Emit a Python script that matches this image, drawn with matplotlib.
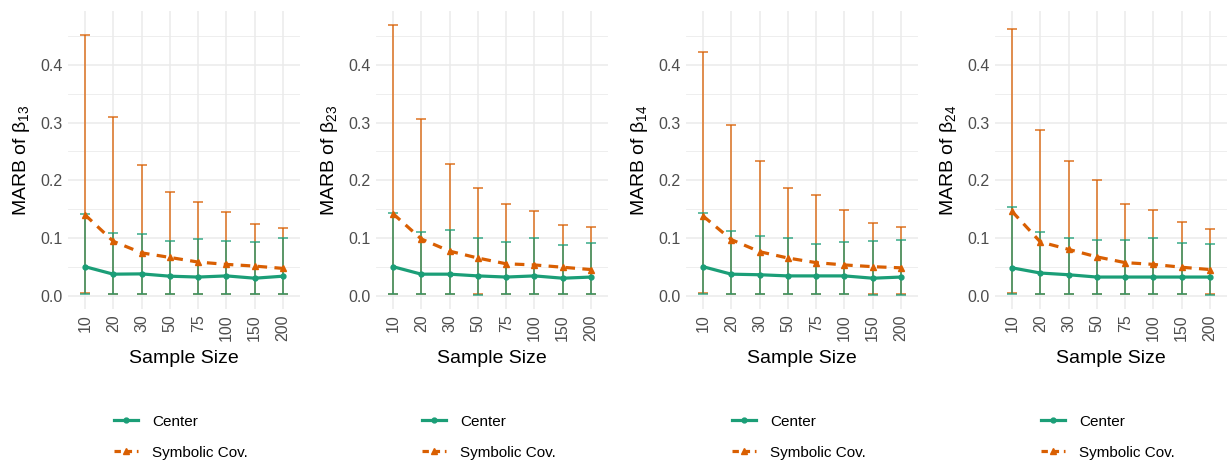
import matplotlib
matplotlib.use("Agg")
import matplotlib.pyplot as plt
from matplotlib.lines import Line2D
import numpy as np

plt.rcParams['font.family'] = ['Liberation Sans', 'DejaVu Sans']
plt.rcParams['mathtext.fontset'] = 'custom'
plt.rcParams['mathtext.rm'] = 'Liberation Sans'
plt.rcParams['mathtext.default'] = 'regular'

sample_sizes = ['10', '20', '30', '50', '75', '100', '150', '200']
panel_subscripts = ['13', '23', '14', '24']

# Center method: mean MARB and error-bar bounds per panel
center_mean = [
    [0.050, 0.037, 0.0375, 0.0335, 0.032, 0.034, 0.030, 0.0335],
    [0.050, 0.037, 0.037, 0.034, 0.032, 0.034, 0.030, 0.032],
    [0.050, 0.037, 0.036, 0.034, 0.034, 0.034, 0.030, 0.032],
    [0.048, 0.039, 0.036, 0.032, 0.032, 0.032, 0.032, 0.032],
]
center_low = [
    [0.002, 0.002, 0.002, 0.002, 0.002, 0.002, 0.002, 0.002],
    [0.002, 0.002, 0.002, 0.001, 0.002, 0.002, 0.002, 0.002],
    [0.002, 0.002, 0.002, 0.002, 0.002, 0.002, 0.001, 0.001],
    [0.002, 0.002, 0.002, 0.002, 0.002, 0.002, 0.002, 0.001],
]
center_high = [
    [0.142, 0.109, 0.107, 0.095, 0.098, 0.095, 0.093, 0.100],
    [0.143, 0.110, 0.114, 0.099, 0.092, 0.099, 0.088, 0.091],
    [0.143, 0.112, 0.103, 0.099, 0.090, 0.092, 0.094, 0.096],
    [0.153, 0.110, 0.099, 0.096, 0.096, 0.099, 0.091, 0.089],
]

# Symbolic covariance method
sym_mean = [
    [0.140, 0.094, 0.074, 0.066, 0.058, 0.054, 0.051, 0.047],
    [0.142, 0.098, 0.077, 0.065, 0.055, 0.053, 0.049, 0.045],
    [0.138, 0.097, 0.076, 0.065, 0.057, 0.053, 0.050, 0.048],
    [0.146, 0.093, 0.080, 0.067, 0.057, 0.054, 0.049, 0.045],
]
sym_low = [
    [0.005, 0.003, 0.003, 0.002, 0.002, 0.002, 0.003, 0.002],
    [0.003, 0.003, 0.002, 0.002, 0.002, 0.002, 0.003, 0.002],
    [0.005, 0.002, 0.003, 0.002, 0.002, 0.002, 0.002, 0.002],
    [0.005, 0.003, 0.003, 0.003, 0.002, 0.002, 0.002, 0.002],
]
sym_high = [
    [0.452, 0.309, 0.227, 0.180, 0.162, 0.145, 0.124, 0.117],
    [0.469, 0.306, 0.228, 0.187, 0.159, 0.146, 0.123, 0.119],
    [0.4225, 0.295, 0.233, 0.187, 0.175, 0.149, 0.126, 0.118],
    [0.462, 0.287, 0.233, 0.201, 0.159, 0.148, 0.128, 0.116],
]

GREEN = '#1B9E77'
ORANGE = '#D95F02'
TICK_GRAY = '#4D4D4D'
GRID = '#EBEBEB'

W, H = 1231, 462
fig = plt.figure(figsize=(W / 100, H / 100), dpi=100)

panel_lefts = [68, 376, 686, 995]
panel_width = 232
top_px, bottom_px = 11, 309

x = np.arange(len(sample_sizes))

for i, left in enumerate(panel_lefts):
    ax = fig.add_axes([left / W, 1 - bottom_px / H, panel_width / W,
                       (bottom_px - top_px) / H])
    ax.set_xlim(-0.6, len(sample_sizes) - 0.4)
    ax.set_ylim(-0.0234, 0.4934)

    for s in ax.spines.values():
        s.set_visible(False)
    ax.set_yticks([0.0, 0.1, 0.2, 0.3, 0.4])
    ax.set_yticks([0.05, 0.15, 0.25, 0.35, 0.45], minor=True)
    ax.set_xticks(x)
    ax.set_xticklabels(sample_sizes, rotation=90)
    ax.grid(True, which='major', color=GRID, linewidth=1.1)
    ax.grid(True, which='minor', axis='y', color=GRID, linewidth=0.6)
    ax.set_axisbelow(True)
    ax.tick_params(which='both', length=0, labelsize=11.5,
                   labelcolor=TICK_GRAY, pad=4)

    cm = np.array(center_mean[i])
    sm = np.array(sym_mean[i])
    # symbolic-cov bars first so the center bars sit on top
    ax.errorbar(x, sm, yerr=[sm - np.array(sym_low[i]),
                             np.array(sym_high[i]) - sm],
                fmt='none', ecolor=ORANGE, elinewidth=1.2, capsize=3.5,
                capthick=1.2, alpha=0.8, zorder=2)
    ax.errorbar(x, cm, yerr=[cm - np.array(center_low[i]),
                             np.array(center_high[i]) - cm],
                fmt='none', ecolor=GREEN, elinewidth=1.2, capsize=3.5,
                capthick=1.2, alpha=0.8, zorder=2)
    ax.plot(x, cm, color=GREEN, linewidth=2.3, marker='o', markersize=3.5,
            zorder=3)
    ax.plot(x, sm, color=ORANGE, linewidth=2.3, linestyle=(0, (3, 2.3)),
            marker='^', markersize=4, zorder=3)

    ax.set_xlabel('Sample Size', fontsize=14, labelpad=6)
    ax.set_ylabel('MARB of β$_{%s}$' % panel_subscripts[i], fontsize=14,
                  labelpad=6)

    handles = [
        Line2D([], [], color=GREEN, linewidth=2.3, marker='o', markersize=3.5),
        Line2D([], [], color=ORANGE, linewidth=2.3, linestyle=(0, (2, 1.5)),
               marker='^', markersize=4),
    ]
    cx = (left + panel_width / 2 - 3) / W
    fig.legend(handles, ['Center', 'Symbolic Cov.'], loc='upper center',
               bbox_to_anchor=(cx, 1 - 401 / H), frameon=False,
               fontsize=11, handlelength=1.6, handletextpad=0.9,
               labelspacing=1.1)

fig.savefig('out.png', dpi=100)
